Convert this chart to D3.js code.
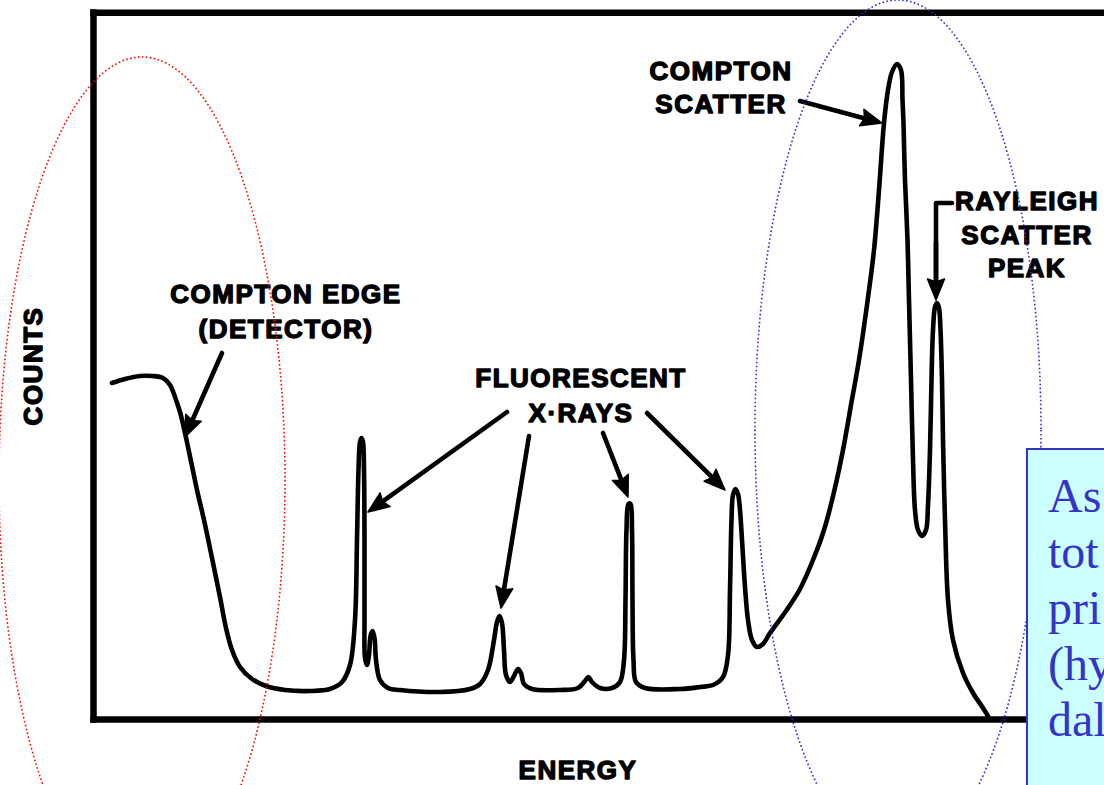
<!DOCTYPE html>
<html>
<head>
<meta charset="utf-8">
<script src="https://cdn.jsdelivr.net/npm/d3@7"></script>
<style>
  html, body { margin: 0; padding: 0; background: #ffffff; overflow: hidden; }
  svg { display: block; }
  .lbl { font-family: "Liberation Sans", Arial, sans-serif; font-weight: 700; font-size: 26px;
         letter-spacing: 1.5px; fill: #000; stroke: #000; stroke-width: 1.4px; stroke-linejoin: round; }
  .note { font-family: "Liberation Serif", "Times New Roman", serif; font-size: 48px; fill: #3434c8; }
</style>
</head>
<body>
<svg id="chart" width="1104" height="785"></svg>
<script>
// Pulse-height spectrum of a scattered X-ray beam (arbitrary channel / count units)
const energy = [19, 32, 47, 59, 70, 77, 82, 87, 92, 99, 104, 111, 119, 127, 133, 139, 147, 159, 173, 192,
  217, 237, 249, 257, 262, 264, 265.5, 267, 268.5, 270, 271, 271.5, 271.5, 272, 274, 276, 277.5, 279.5, 281.5, 283,
  287, 295, 307, 347, 377, 387, 395, 401, 404, 406.5, 409, 411, 413, 417, 421, 425, 428, 431, 439, 467,
  485, 492, 495.5, 499, 507, 519, 527, 531, 532.5, 533.5, 535.5, 537.5, 539, 539.5, 540.5, 543, 552, 587, 607, 620,
  630, 635, 637, 638.5, 640, 642.5, 645, 647, 649, 652, 655, 659, 664, 670, 677, 693, 707, 720, 731, 741,
  750, 758, 766, 774, 781, 786, 791, 795, 799, 804, 808, 809.5, 810.5, 812, 814.5, 816, 818, 820, 822, 825, 829,
  833, 835, 837, 838.5, 840, 842, 844, 846, 847.5, 849, 850, 852, 855, 860, 870, 880, 890, 895];
const counts = [336, 340, 343, 343, 341, 334, 322, 307, 286, 253, 229, 199, 161, 122, 91, 69, 52, 40, 33, 29,
  28, 30, 37, 54, 99, 179, 249, 277, 281, 277, 249, 179, 99, 61, 54, 64, 83, 88, 81, 59,
  39, 31, 29, 27, 30, 35, 49, 79, 97, 103, 96, 69, 44, 37, 43, 50, 46, 35, 30, 29,
  31, 38, 42, 37, 31, 31, 37, 59, 119, 189, 215, 215, 189, 119, 59, 37, 31, 30, 32, 34,
  42, 64, 129, 199, 224, 230, 225, 209, 179, 132, 99, 79, 72, 75, 86, 108, 130, 159, 189, 227,
  269, 314, 359, 414, 469, 529, 596, 629, 647, 655, 649, 619, 596, 539, 479, 419, 339, 259, 209, 189, 183,
  189, 214, 269, 339, 389, 412, 416, 411, 389, 339, 279, 199, 119, 79, 46, 26, 11, 3];

// Axis titles
const xTitle = "ENERGY";
const yTitle = "COUNTS";

// Callout text: lines, anchor (channel, counts) of first baseline
const labelLines = [
  ["COMPTON", "SCATTER"],
  ["RAYLEIGH", "SCATTER", "PEAK"],
  ["COMPTON EDGE", "(DETECTOR)"],
  ["FLUORESCENT", "X·RAYS"]
];
const labelAt = [[628, 639], [934, 509], [193, 416], [488, 332]];
const labelStep = [33, 33.5, 35, 35];

// Arrows: tail (channel, counts) -> tip (channel, counts)
const arrowTail = [[129, 366], [414, 307], [436, 283], [510, 286], [554, 306], [707, 618]];
const arrowTip  = [[92, 282],  [275, 207], [408, 111], [535, 222], [632, 229], [789, 596]];
// Rayleigh bracket arrow
const bracket = [[859, 516], [843, 516], [843, 419]];

// Dotted highlight regions: centre (channel, counts) and radii (channel, counts)
const regionCentre = [[49, 239], [805, 289]];
const regionRadius = [[143, 423], [143, 430]];
const regionColor = ["#ff0000", "#2a2ad8"];

// Side note
const noteLines = ["As", "tot", "pri", "(hy", "dal"];

const svg = d3.select("#chart");

const x = d3.scaleLinear().domain([0, 1011]).range([93, 1104]);
const y = d3.scaleLinear().domain([0, 707]).range([719, 12]);

// Frame drawn from the axes (no ticks)
const frame = svg.append("g");
frame.append("g").attr("transform", `translate(0,${y(0)})`)
  .call(d3.axisBottom(x).ticks(0).tickSizeOuter(0));
frame.append("g").attr("transform", `translate(0,${y(707) + 0.3})`)
  .call(d3.axisTop(x).ticks(0).tickSizeOuter(0));
frame.append("g").attr("transform", `translate(${x(0)},0)`)
  .call(d3.axisLeft(y).ticks(0).tickSizeOuter(0));
frame.selectAll(".domain")
  .attr("stroke", "#000").attr("stroke-width", 6.5).attr("stroke-linecap", "square");

// Spectrum
const pts = energy.map((e, i) => [e, counts[i]]);
const line = d3.line().x(d => x(d[0])).y(d => y(d[1])).curve(d3.curveCatmullRom.alpha(0.5));
svg.append("path").datum(pts).attr("d", line)
  .attr("fill", "none").attr("stroke", "#000").attr("stroke-width", 4.6)
  .attr("stroke-linejoin", "round").attr("stroke-linecap", "round");

// Arrows
function arrow(g, tail, tip) {
  const x0 = x(tail[0]), y0 = y(tail[1]), x1 = x(tip[0]), y1 = y(tip[1]);
  const dx = x1 - x0, dy = y1 - y0, L = Math.hypot(dx, dy);
  const ux = dx / L, uy = dy / L, hl = 21, hw = 8.5;
  g.append("line").attr("x1", x0).attr("y1", y0)
    .attr("x2", x1 - ux * hl * 0.7).attr("y2", y1 - uy * hl * 0.7)
    .attr("stroke", "#000").attr("stroke-width", 4.6).attr("stroke-linecap", "round");
  const bx = x1 - ux * hl, by = y1 - uy * hl;
  g.append("path")
    .attr("d", `M${x1},${y1}L${bx - uy * hw},${by + ux * hw}L${bx + ux * 3},${by + uy * 3}L${bx + uy * hw},${by - ux * hw}Z`)
    .attr("fill", "#000").attr("stroke", "#000").attr("stroke-width", 1.5).attr("stroke-linejoin", "round");
}
const arrows = svg.append("g");
arrowTail.forEach((t, i) => arrow(arrows, t, arrowTip[i]));
arrows.append("path")
  .attr("d", d3.line().x(d => x(d[0])).y(d => y(d[1]))(bracket.slice(0, 2).concat([[bracket[2][0], bracket[2][1] + 15]])))
  .attr("fill", "none").attr("stroke", "#000").attr("stroke-width", 4.6)
  .attr("stroke-linecap", "round").attr("stroke-linejoin", "round");
arrow(arrows, [bracket[1][0], bracket[1][1] - 40], bracket[2]);

// Callout labels
const labels = svg.append("g");
labelLines.forEach((lines, i) => {
  lines.forEach((s, j) => {
    labels.append("text").attr("class", "lbl")
      .attr("x", x(labelAt[i][0])).attr("y", y(labelAt[i][1]) + j * labelStep[i])
      .attr("text-anchor", "middle").text(s);
  });
});

// Axis titles
svg.append("text").attr("class", "lbl").attr("text-anchor", "middle")
  .attr("x", 578).attr("y", 779).text(xTitle);
svg.append("text").attr("class", "lbl").attr("text-anchor", "middle")
  .attr("transform", "translate(42,366) rotate(-90)").text(yTitle);

// Dotted highlight ellipses
regionCentre.forEach((c, i) => {
  svg.append("ellipse")
    .attr("cx", x(c[0])).attr("cy", y(c[1]))
    .attr("rx", x(regionRadius[i][0]) - x(0)).attr("ry", y(0) - y(regionRadius[i][1]))
    .attr("fill", "none").attr("stroke", regionColor[i]).attr("stroke-width", 1.6)
    .attr("stroke-dasharray", "1.6 2.4");
});

// Side note box
const note = svg.append("g");
note.append("rect").attr("x", 1027).attr("y", 449).attr("width", 120).attr("height", 400)
  .attr("fill", "#ccffff").attr("stroke", "#3434c8").attr("stroke-width", 2);
noteLines.forEach((s, i) => {
  note.append("text").attr("class", "note").attr("x", 1048).attr("y", 512 + i * 56).text(s);
});
</script>
</body>
</html>
